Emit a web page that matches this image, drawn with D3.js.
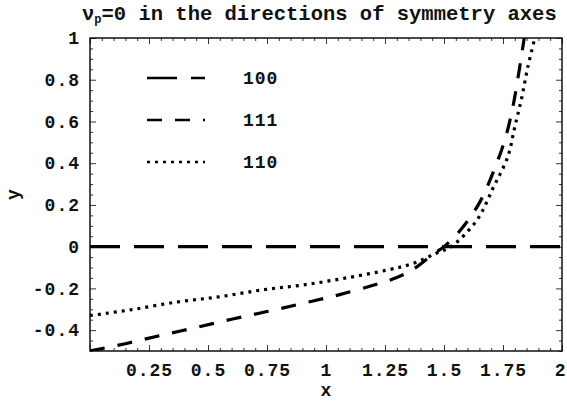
<!DOCTYPE html>
<html>
<head>
<meta charset="utf-8">
<script src="https://cdnjs.cloudflare.com/ajax/libs/d3/7.8.5/d3.min.js"></script>
<style>
    body { margin: 0; background: #fff; }
    text { font-family: "Liberation Mono", "DejaVu Sans Mono", monospace; font-weight: bold; fill: #111; }
</style>
</head>
<body>
<div id="chart"></div>
<script>
(function () {
    'use strict';

    // series 100 : flat line at zero
    var x100 = [0, 2];
    var y100 = [0, 0];
    // series 111 : dashed
    var x111 = [0, 0.15, 0.3, 0.45, 0.6, 0.75, 0.9, 1.05, 1.2, 1.3, 1.38, 1.46, 1.5, 1.57, 1.65, 1.72, 1.76, 1.79, 1.815, 1.84];
    var y111 = [-0.5, -0.465, -0.425, -0.387, -0.348, -0.311, -0.272, -0.232, -0.185, -0.148, -0.1, -0.03, 0.0, 0.08, 0.21, 0.39, 0.52, 0.66, 0.82, 1.0];
    // series 110 : dotted
    var x110 = [0, 0.17, 0.37, 0.55, 0.73, 0.9, 1.08, 1.26, 1.37, 1.47, 1.53, 1.64, 1.71, 1.77, 1.8, 1.83, 1.855, 1.885];
    var y110 = [-0.33, -0.303, -0.265, -0.24, -0.207, -0.184, -0.151, -0.112, -0.08, -0.03, 0.0, 0.128, 0.286, 0.43, 0.574, 0.717, 0.86, 1.0];

    var xTicks = [0.25, 0.5, 0.75, 1, 1.25, 1.5, 1.75, 2];
    var xTickLabels = ['0.25', '0.5', '0.75', '1', '1.25', '1.5', '1.75', '2'];
    var yTicks = [-0.4, -0.2, 0, 0.2, 0.4, 0.6, 0.8, 1];
    var yTickLabels = ['-0.4', '-0.2', '0', '0.2', '0.4', '0.6', '0.8', '1'];

    var legendNames = ['100', '111', '110'];
    var dashes = ['30,14', '15,13', '3,5'];

    var width = 567, height = 402;
    var margin = { top: 38, right: 5, bottom: 51, left: 90 };
    var w = width - margin.left - margin.right,
        h = height - margin.top - margin.bottom;

    var svg = d3.select('#chart')
        .append('svg')
        .attr('width', width)
        .attr('height', height);

    var x = d3.scaleLinear().domain([0, 2]).range([0, w]);
    var y = d3.scaleLinear().domain([-0.5, 1]).range([h, 0]);

    var g = svg.append('g')
        .attr('transform', 'translate(' + margin.left + ',' + margin.top + ')');

    g.append('clipPath').attr('id', 'clip')
        .append('rect').attr('width', w).attr('height', h);

    // minor and major ticks, inward on all four sides
    var xMinor = d3.range(0, 2.001, 0.05);
    var yMinor = d3.range(-0.5, 1.001, 0.05);
    function isMajor(v, step) {
        return Math.abs(v / step - Math.round(v / step)) < 1e-6;
    }

    g.append('g')
        .attr('transform', 'translate(0,' + h + ')')
        .call(d3.axisBottom(x).tickValues(xMinor).tickSizeInner(0).tickSizeOuter(0).tickFormat(''))
        .call(function (s) { s.select('.domain').remove(); })
        .selectAll('.tick line')
        .attr('y2', function (d) { return isMajor(d, 0.25) ? -6 : -3; });
    g.append('g')
        .call(d3.axisTop(x).tickValues(xMinor).tickSizeInner(0).tickSizeOuter(0).tickFormat(''))
        .call(function (s) { s.select('.domain').remove(); })
        .selectAll('.tick line')
        .attr('y2', function (d) { return isMajor(d, 0.25) ? 6 : 3; });
    g.append('g')
        .call(d3.axisLeft(y).tickValues(yMinor).tickSizeInner(0).tickSizeOuter(0).tickFormat(''))
        .call(function (s) { s.select('.domain').remove(); })
        .selectAll('.tick line')
        .attr('x2', function (d) { return isMajor(d, 0.2) ? 6 : 3; });
    g.append('g')
        .attr('transform', 'translate(' + w + ',0)')
        .call(d3.axisRight(y).tickValues(yMinor).tickSizeInner(0).tickSizeOuter(0).tickFormat(''))
        .call(function (s) { s.select('.domain').remove(); })
        .selectAll('.tick line')
        .attr('x2', function (d) { return isMajor(d, 0.2) ? -6 : -3; });

    g.selectAll('.tick line').attr('stroke', '#333').attr('stroke-width', 1);

    // tick labels
    var xl = d3.axisBottom(x).tickValues(xTicks).tickSize(0).tickPadding(12)
        .tickFormat(function (d, i) { return xTickLabels[i]; });
    g.append('g')
        .attr('transform', 'translate(0,' + h + ')')
        .call(xl)
        .call(function (s) { s.select('.domain').remove(); })
        .selectAll('text')
        .attr('font-family', null).attr('font-size', 18)
        .attr('letter-spacing', 1)
        .attr('text-anchor', function (d) { return d === 2 ? 'end' : 'middle'; })
        .attr('dx', function (d) { return d === 2 ? 4 : 0; });

    var yl = d3.axisLeft(y).tickValues(yTicks).tickSize(0).tickPadding(10)
        .tickFormat(function (d, i) { return yTickLabels[i]; });
    g.append('g')
        .call(yl)
        .call(function (s) { s.select('.domain').remove(); })
        .selectAll('text')
        .attr('font-family', null).attr('font-size', 18)
        .attr('letter-spacing', 1);

    // frame
    g.append('rect')
        .attr('width', w).attr('height', h)
        .attr('fill', 'none')
        .attr('stroke', '#111')
        .attr('stroke-width', 1.5);

    // curves
    var line = d3.line()
        .x(function (d) { return x(d[0]); })
        .y(function (d) { return y(d[1]); })
        .curve(d3.curveCatmullRom.alpha(0.5));

    var series = [d3.zip(x100, y100), d3.zip(x111, y111), d3.zip(x110, y110)];
    g.append('g')
        .attr('clip-path', 'url(#clip)')
        .selectAll('path')
        .data(series)
        .enter().append('path')
        .attr('d', line)
        .attr('fill', 'none')
        .attr('stroke', '#000')
        .attr('stroke-width', 3.2)
        .attr('stroke-dasharray', function (d, i) { return dashes[i]; });

    // legend
    var legend = g.selectAll('.legend')
        .data(legendNames)
        .enter().append('g')
        .attr('class', 'legend')
        .attr('transform', function (d, i) { return 'translate(57,' + (40 + i * 42) + ')'; });
    legend.append('line')
        .attr('x1', 0).attr('x2', 58)
        .attr('stroke', '#000')
        .attr('stroke-width', 2.5)
        .attr('stroke-dasharray', function (d, i) { return dashes[i]; });
    legend.append('text')
        .attr('x', 96).attr('dy', '0.35em')
        .attr('font-size', 18)
        .attr('letter-spacing', 1)
        .text(function (d) { return d; });

    // title
    var title = svg.append('text')
        .attr('x', 82).attr('y', 20)
        .attr('font-size', 20.5);
    title.append('tspan').text('ν');
    title.append('tspan').attr('font-size', 12).attr('dy', 3).text('p');
    title.append('tspan').attr('dy', -3).text('=0 in the directions of symmetry axes');

    // axis labels
    svg.append('text')
        .attr('x', margin.left + x(1)).attr('y', 396)
        .attr('text-anchor', 'middle')
        .attr('font-size', 18)
        .text('x');
    svg.append('text')
        .attr('transform', 'translate(19,' + (margin.top + y(0.25)) + ') rotate(-90)')
        .attr('text-anchor', 'middle')
        .attr('font-size', 18)
        .text('y');
})();
</script>
</body>
</html>
